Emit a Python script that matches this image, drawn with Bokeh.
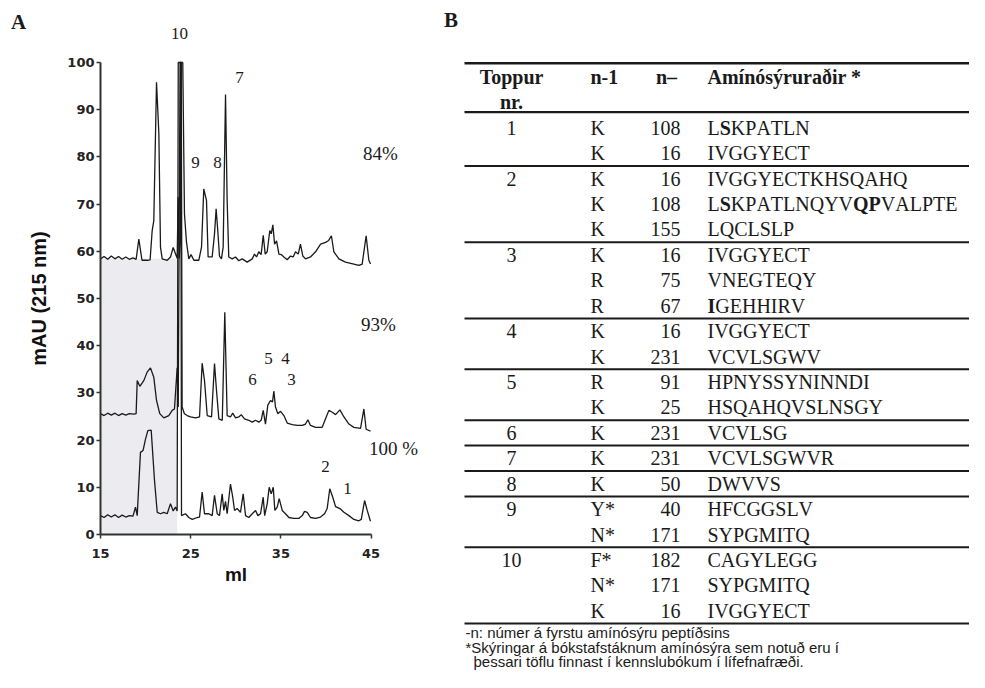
from bokeh.plotting import figure
from bokeh.models import Range1d, FixedTicker, LinearAxis, ColumnDataSource
from bokeh.core.properties import value
from bokeh.embed import file_html
from bokeh.resources import INLINE

# ---------------- Panel A data ----------------
x_ticks = [15, 25, 35, 45]
y_ticks = [0, 10, 20, 30, 40, 50, 60, 70, 80, 90, 100]

ml_84 = [15.0, 15.4, 15.8, 16.2, 16.6, 17.0, 17.4, 17.8, 18.2, 18.6, 18.95, 19.25, 19.6, 20.2, 20.5,
         20.73, 20.91, 21.21, 21.47, 21.65, 21.84, 22.4, 22.76, 23.06, 23.31, 23.5, 23.61, 23.72, 23.85,
         23.94, 24.12, 24.31, 24.53, 24.79, 25.04, 25.35, 25.9, 26.2, 26.45, 26.75, 26.93, 27.38, 27.64,
         27.82, 28.0, 28.19, 28.41, 28.6, 28.86, 29.04, 29.22, 29.6, 29.97, 30.33, 30.71, 31.26, 31.82,
         32.07, 32.3, 32.55, 32.81, 33.04, 33.26, 33.48, 33.77, 33.93, 34.11, 34.3, 34.52, 34.78, 35.04,
         35.33, 35.7, 36.07, 36.36, 36.62, 36.92, 37.17, 37.43, 37.73, 38.28, 38.84, 39.4, 39.95, 40.3,
         40.6, 40.87, 41.43, 42.16, 43.09, 43.64, 44.01, 44.45, 44.75, 44.94]
mau_84 = [58.4, 58.9, 58.3, 59.0, 58.4, 58.9, 58.3, 58.8, 58.3, 58.6, 58.3, 62.6, 58.1, 58.1, 58.2,
          64.4, 66.5, 95.8, 84.9, 60.9, 58.4, 58.1, 58.8, 60.8, 59.5, 58.5, 71.5, 58.5, 62.0,
          100.0, 100.0, 67.9, 62.0, 58.4, 59.3, 58.1, 58.1, 60.9, 73.2, 70.8, 58.8, 58.8, 63.7,
          69.0, 64.4, 59.0, 58.4, 60.9, 93.2, 70.8, 58.8, 58.4, 58.8, 58.0, 58.4, 57.7, 58.4,
          59.4, 58.8, 59.9, 59.3, 63.4, 59.4, 59.9, 64.4, 63.7, 65.6, 61.5, 62.2, 59.4, 59.3,
          58.8, 58.2, 59.0, 58.8, 59.9, 59.4, 61.5, 59.0, 58.4, 58.8, 59.9, 61.5, 61.9, 62.3,
          63.3, 59.9, 58.4, 57.7, 57.3, 57.0, 57.3, 63.3, 58.1, 57.3]

ml_93 = [15.0, 15.4, 15.8, 16.2, 16.6, 17.0, 17.4, 17.8, 18.2, 18.7, 18.95, 19.07, 19.36, 19.8, 20.17,
         20.54, 20.91, 21.21, 21.57, 22.02, 22.57, 22.95, 23.2, 23.5, 23.62, 23.82, 23.95, 24.05, 24.3,
         24.61, 24.98, 25.53, 25.98, 26.27, 26.53, 26.83, 27.31, 27.64, 27.86, 28.12, 28.5, 28.78, 29.04,
         29.41, 29.66, 29.97, 30.33, 30.6, 30.96, 31.44, 31.82, 32.19, 32.55, 32.81, 33.04, 33.29, 33.55,
         33.85, 34.07, 34.22, 34.4, 34.66, 34.96, 35.33, 35.7, 36.26, 36.81, 37.37, 37.73, 37.99, 38.28,
         38.84, 39.58, 39.95, 40.32, 40.7, 41.06, 41.54, 41.99, 42.54, 43.09, 43.83, 44.2, 44.45, 44.93]
mau_93 = [25.6, 25.2, 25.7, 25.3, 25.7, 25.2, 25.6, 25.3, 25.6, 25.5, 25.6, 32.6, 31.4, 32.6, 34.4,
          35.3, 33.3, 28.4, 25.6, 24.7, 25.2, 26.3, 26.6, 35.3, 27.0, 100.0, 100.0, 27.0, 25.6,
          25.2, 24.9, 24.7, 24.9, 36.3, 32.6, 25.2, 24.9, 36.2, 30.5, 24.5, 24.2, 47.1, 25.2,
          24.9, 25.7, 24.7, 24.9, 25.4, 24.5, 24.2, 23.8, 24.2, 23.8, 24.2, 26.3, 23.4, 27.4,
          28.4, 28.1, 30.4, 27.0, 25.6, 26.1, 25.2, 23.6, 23.3, 23.1, 23.1, 23.4, 24.3, 23.1,
          22.7, 22.7, 24.5, 26.3, 25.9, 25.4, 26.4, 24.9, 23.4, 22.7, 22.5, 26.6, 22.3, 21.9]

ml_100 = [15.0, 15.4, 15.8, 16.2, 16.6, 17.0, 17.4, 17.8, 18.2, 18.6, 18.88, 19.07, 19.43, 19.72, 19.99,
          20.25, 20.62, 20.99, 21.29, 21.65, 22.02, 22.39, 22.76, 23.06, 23.31, 23.5, 23.62, 23.9, 23.98,
          24.42, 24.79, 25.17, 25.72, 25.98, 26.27, 26.53, 27.01, 27.38, 27.64, 27.94, 28.19, 28.49, 28.67,
          28.86, 29.04, 29.41, 29.66, 29.86, 30.15, 30.52, 30.82, 31.08, 31.44, 31.82, 32.19, 32.45, 32.74,
          33.04, 33.2, 33.48, 33.7, 33.93, 34.15, 34.33, 34.59, 34.81, 35.15, 35.51, 35.88, 36.43, 36.99,
          37.37, 37.62, 37.92, 38.28, 38.84, 39.39, 39.84, 40.13, 40.42, 40.75, 41.06, 41.54, 41.99, 42.54,
          43.09, 43.64, 43.91, 44.28, 44.57, 44.93]
mau_100 = [4.0, 3.6, 4.2, 3.7, 4.2, 3.6, 4.1, 3.7, 4.0, 3.9, 5.8, 4.0, 17.4, 17.8, 20.2,
           22.0, 22.1, 11.4, 4.7, 4.4, 4.7, 4.4, 6.5, 5.0, 5.8, 5.0, 100.0, 100.0, 4.0,
           4.4, 3.6, 3.2, 3.6, 3.7, 9.0, 4.4, 4.4, 4.0, 8.3, 4.4, 4.0, 8.6, 5.1,
           7.0, 4.4, 10.7, 7.9, 5.1, 5.5, 4.7, 8.6, 4.0, 3.6, 4.4, 5.1, 4.0, 4.4,
           7.9, 4.0, 6.5, 10.0, 8.6, 10.0, 5.1, 5.8, 7.6, 5.1, 4.4, 3.6, 3.4, 3.4,
           4.0, 4.9, 4.7, 3.6, 3.4, 3.7, 4.4, 5.5, 9.7, 7.9, 5.9, 5.5, 4.7, 4.0,
           3.2, 2.9, 3.2, 7.2, 5.1, 2.8]

# shaded (grey) region behind the early part of the chromatograms
shade_ml = [15.0, 23.5]
shade_mau = [0.0, 58.4]

peak_labels = ["10", "7", "9", "8", "5", "4", "6", "3", "2", "1"]
peak_label_ml = [23.76, 30.41, 25.53, 27.97, 33.63, 35.51, 31.85, 36.18, 39.94, 42.38]
peak_label_mau = [106.1, 96.8, 78.8, 78.8, 37.3, 37.3, 32.8, 32.8, 14.4, 9.7]

pct_labels = ["84%", "93%", "100 %"]
pct_label_ml = [46.04, 45.82, 47.48]
pct_label_mau = [80.7, 44.5, 18.2]

# ---------------- Panel B data (table) ----------------
peak_nr = [1, 1, 2, 2, 2, 3, 3, 3, 4, 4, 5, 5, 6, 7, 8, 9, 9, 10, 10, 10]
prev_residue = ["K", "K", "K", "K", "K", "K", "R", "R", "K", "K", "R", "K", "K", "K", "K",
                "Y*", "N*", "F*", "N*", "K"]
start_pos = [108, 16, 16, 108, 155, 16, 75, 67, 16, 231, 91, 25, 231, 231, 50, 40, 171, 182, 171, 16]
sequences = ["LSKPATLN", "IVGGYECT", "IVGGYECTKHSQAHQ", "LSKPATLNQYVQPVALPTE", "LQCLSLP",
             "IVGGYECT", "VNEGTEQY", "IGEHHIRV", "IVGGYECT", "VCVLSGWV",
             "HPNYSSYNINNDI", "HSQAHQVSLNSGY", "VCVLSG", "VCVLSGWVR", "DWVVS",
             "HFCGGSLV", "SYPGMITQ", "CAGYLEGG", "SYPGMITQ", "IVGGYECT"]
bold_residues = [[1], [], [], [1, 11, 12], [], [], [], [0], [], [],
                 [], [], [], [], [], [], [], [], [], []]
header = ["Toppur", "nr.", "n-1", "n\u2013", "Am\u00edn\u00f3s\u00fdrura\u00f0ir *"]
footnotes = ["-n: n\u00famer \u00e1 fyrstu am\u00edn\u00f3s\u00fdru pept\u00ed\u00f0sins",
             "*Sk\u00fdringar \u00e1 b\u00f3kstafst\u00e1knum am\u00edn\u00f3s\u00fdra sem notu\u00f0 eru \u00ed",
             "\u00feessari t\u00f6flu finnast \u00ed kennslub\u00f3kum \u00ed l\u00edfefnafr\u00e6\u00f0i."]

SANS = "Liberation Sans"
TICKFONT = "DejaVu Sans"
SERIF = "Liberation Serif"
INK = "#1a1a1a"
AXIS = "#2e3430"

# ---------------- layout (pixels) ----------------
W, H = 969, 672
AX_LEFT_PX, AX_BOTTOM_PX = 100, 534
PX_PER_ML, PX_PER_MAU = 9.02, 4.72
x0, y0 = x_ticks[0], y_ticks[0]

p = figure(width=W, height=H,
           x_range=Range1d(x0 - AX_LEFT_PX / PX_PER_ML, x0 + (W - AX_LEFT_PX) / PX_PER_ML),
           y_range=Range1d(y0 - (H - AX_BOTTOM_PX) / PX_PER_MAU, y0 + AX_BOTTOM_PX / PX_PER_MAU),
           output_backend="svg", toolbar_location=None, tools="", min_border=0,
           x_axis_location=None, y_axis_location=None)
p.outline_line_color = None
p.grid.visible = False
p.background_fill_color = "white"
p.border_fill_color = "white"
# page-pixel ranges for the table and panel letters
p.extra_x_ranges = {"px": Range1d(0, W)}
p.extra_y_ranges = {"py": Range1d(H, 0)}

# ================= Panel A =================
p.quad(left=[shade_ml[0]], right=[shade_ml[1]], bottom=[shade_mau[0]], top=[shade_mau[1]],
       fill_color="#ebebf0", line_color=None)

for xs, ys in ((ml_84, mau_84), (ml_93, mau_93), (ml_100, mau_100)):
    p.line(xs, ys, line_color=INK, line_width=1.3)

xa = LinearAxis(fixed_location=y0, bounds=(x_ticks[0], x_ticks[-1]), ticker=FixedTicker(ticks=x_ticks))
ya = LinearAxis(fixed_location=x0, bounds=(y_ticks[0], y_ticks[-1]), ticker=FixedTicker(ticks=y_ticks))
for ax in (xa, ya):
    ax.axis_line_width = 2
    ax.axis_line_color = AXIS
    ax.major_tick_line_color = AXIS
    ax.major_tick_line_width = 1.5
    ax.major_tick_out = 4
    ax.major_tick_in = 0
    ax.minor_tick_line_color = None
    ax.major_label_text_font = TICKFONT
    ax.major_label_text_font_style = "bold"
    ax.major_label_text_font_size = "13px"
    ax.major_label_text_color = "#222222"
    ax.axis_label_text_font = SANS
    ax.axis_label_text_font_style = "bold"
    ax.axis_label_text_color = "#111111"
xa.axis_label = "ml"
ya.axis_label = "mAU (215 nm)"
xa.axis_label_text_font_size = "19px"
ya.axis_label_text_font_size = "20px"
xa.major_label_standoff = 10
ya.major_label_standoff = 2
xa.axis_label_standoff = 3
ya.axis_label_standoff = 14
p.add_layout(xa, "below")
p.add_layout(ya, "left")

p.text(x="x", y="y", text="text",
       source=ColumnDataSource(dict(x=peak_label_ml, y=peak_label_mau, text=peak_labels)),
       text_font=value(SERIF), text_font_size="17px", text_color=INK,
       text_align="center", text_baseline="middle")
p.text(x="x", y="y", text="text",
       source=ColumnDataSource(dict(x=pct_label_ml, y=pct_label_mau, text=pct_labels)),
       text_font=value(SERIF), text_font_size="19px", text_color=INK,
       text_align="center", text_baseline="middle")


def txt(xs, ys, texts, align="left", bold=False, size="20px", font=SERIF):
    p.text(x=xs, y=ys, text=texts, text_font=value(font), text_font_size=size,
           text_font_style="bold" if bold else "normal", text_align=align,
           text_baseline="middle", text_color=INK, x_range_name="px", y_range_name="py")


txt([18], [21], ["A"], align="center", bold=True, size="21px")

# ================= Panel B (table) =================
FS = 20
col_peak = 511
col_prev = 590
col_num = 680
col_num_head = 666
col_seq = 707
rule_x0 = 464
header_y = [76.7, 101.7]
row0_y = 127.3
row_dy = 25.42
top_rule_y = 62.7
header_rule_y = 111.7

# Times-compatible advance widths (1/1000 em)
REG = {'A': 722, 'C': 667, 'D': 722, 'E': 611, 'F': 556, 'G': 722, 'H': 722, 'I': 333, 'K': 722,
       'L': 611, 'M': 889, 'N': 722, 'P': 556, 'Q': 722, 'R': 667, 'S': 556, 'T': 611, 'V': 722,
       'W': 944, 'Y': 722}
BOLD = dict(REG)
BOLD.update({'S': 556, 'Q': 778, 'P': 611, 'I': 389, 'L': 667, 'K': 778})

n = len(peak_nr)
row_y = [row0_y + row_dy * i for i in range(n)]

txt([col_peak, col_peak], header_y, header[0:2], align="center", bold=True)
txt([col_prev], [header_y[0]], [header[2]], bold=True)
txt([col_num_head], [header_y[0]], [header[3]], align="center", bold=True)
txt([col_seq], [header_y[0]], [header[4]], bold=True)

pk_x, pk_y, pk_t = [], [], []
for i in range(n):
    if i == 0 or peak_nr[i] != peak_nr[i - 1]:
        pk_x.append(col_peak); pk_y.append(row_y[i]); pk_t.append(str(peak_nr[i]))
txt(pk_x, pk_y, pk_t, align="center")
txt([col_prev] * n, row_y, prev_residue)
txt([col_num] * n, row_y, [str(v) for v in start_pos], align="right")

# sequences, one residue at a time (no kerning, bold residues in bold)
reg_x, reg_y, reg_t, b_x, b_y, b_t = [], [], [], [], [], []
for i, seq in enumerate(sequences):
    cursor = col_seq
    for j, c in enumerate(seq):
        if j in bold_residues[i]:
            b_x.append(cursor); b_y.append(row_y[i]); b_t.append(c)
            cursor += BOLD[c] * FS / 1000.0
        else:
            reg_x.append(cursor); reg_y.append(row_y[i]); reg_t.append(c)
            cursor += REG[c] * FS / 1000.0
txt(reg_x, reg_y, reg_t)
txt(b_x, b_y, b_t, bold=True)

rule_y = [top_rule_y, header_rule_y]
rule_w = [2.6, 2.2]
for i in range(n):
    if i == n - 1 or peak_nr[i + 1] != peak_nr[i]:
        rule_y.append(row_y[i] + row_dy / 2)
        rule_w.append(2.0)
p.segment(x0=[rule_x0] * len(rule_y), y0=rule_y, x1=[W] * len(rule_y), y1=rule_y,
          line_color=INK, line_width=rule_w, x_range_name="px", y_range_name="py")

txt([465, 465, 473], [632, 647, 661], footnotes, size="15px", font=SANS)
txt([450.5], [19], ["B"], align="center", bold=True, size="21px")

open("out.html", "w").write(file_html(p, INLINE))
